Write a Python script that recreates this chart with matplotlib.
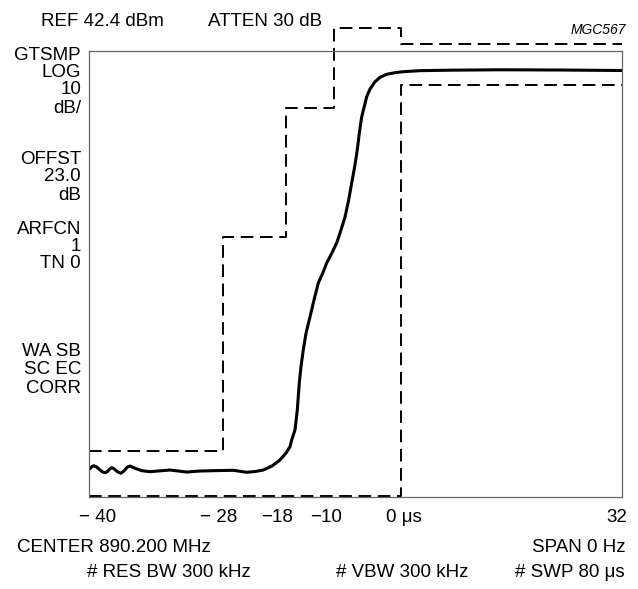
import matplotlib
matplotlib.use("Agg")
import matplotlib.pyplot as plt
import matplotlib.transforms as mtransforms
import numpy as np

plt.rcParams['font.family'] = ['Liberation Sans', 'DejaVu Sans']

# time axis (us) and level (dBm)
tick_us = [-40, -28, -18, -10, 0, 32]
tick_labels = ["\u2212 40", "\u2212 28", "\u221218", "\u221210", "0 \u03bcs", "32"]

# upper mask: step edges and levels
upper_edges = [-40, -28, -18, -10, 0, 32]
upper_levels = [-29.4, 9.1, 32.1, 46.5, 43.7]
# lower mask
lower_edges = [-40, 0, 32]
lower_levels = [-37.5, 36.3]

# measured burst rising edge
sig_t = [-39.97, -39.76, -39.55, -39.31, -39.01, -38.77, -38.56, -38.36, -38.12,
         -37.96, -37.76, -37.46, -37.15, -36.86, -36.56, -36.32, -35.87, -35.27,
         -34.53, -32.73, -31.23, -30.03, -28.84, -26.32, -24.19, -22.87, -21.56,
         -20.18, -18.91, -17.95, -17.29, -17.01, -16.46, -16.08, -15.75, -15.47,
         -15.09, -14.64, -13.98, -13.31, -12.60, -11.87, -11.21, -10.38, -9.60,
         -8.95, -8.35, -7.80, -7.35, -6.90, -6.51, -6.21, -5.85, -5.10, -4.60,
         -3.85, -3.10, -2.10, -0.86, 0.38, 2.79, 7.13, 14.36, 23.04, 32.0]
sig_db = [-32.63, -32.17, -31.99, -32.22, -32.76, -33.12, -33.24, -33.06, -32.52,
          -32.34, -32.52, -33.06, -33.35, -32.94, -32.22, -32.04, -32.45, -32.88,
          -33.06, -32.76, -33.12, -32.94, -32.88, -32.81, -33.17, -33.03, -32.76,
          -32.04, -30.96, -29.71, -28.58, -27.38, -25.58, -21.99, -17.15, -14.23,
          -11.23, -8.24, -5.31, -2.26, 0.79, 2.53, 4.37, 6.11, 7.96,
          10.29, 12.62, 15.67, 18.72, 21.65, 24.64, 27.64, 30.56, 34.20, 35.58,
          36.89, 37.68, 38.22, 38.51, 38.69, 38.87, 38.96, 39.03, 38.99, 38.90]

ref_level = 42.4
span_db = 80

# schematic (non-linear) time axis: where each tick sits across the box
knot_pos = [0.0, 133.7, 196.7, 245.0, 311.7, 533.0]


def fwd(x):
    return np.interp(x, tick_us, knot_pos)


def inv(p):
    return np.interp(p, knot_pos, tick_us)


W, H = 638, 589
fig = plt.figure(figsize=(W / 100, H / 100), dpi=100)
ax = fig.add_axes([89 / W, 1 - 497 / H, 533 / W, 446 / H])
ax.set_xscale('function', functions=(fwd, inv))
ax.set_xlim(-40, 32)
ax.set_ylim(ref_level - span_db, ref_level)

for s in ax.spines.values():
    s.set_color('0.4')
    s.set_linewidth(0.9)

dash = (0, (6.5, 3.4))
ux = [upper_edges[0]]
uy = [upper_levels[0]]
for i, lv in enumerate(upper_levels):
    if i > 0:
        ux.append(upper_edges[i])
        uy.append(lv)
    ux.append(upper_edges[i + 1])
    uy.append(lv)
ax.plot(ux, uy, color='black', lw=1.4, linestyle=dash, clip_on=False)

lx = [lower_edges[0], lower_edges[1], lower_edges[1], lower_edges[2]]
ly = [lower_levels[0], lower_levels[0], lower_levels[1], lower_levels[1]]
ax.plot(lx, ly, color='black', lw=1.4, linestyle=dash, clip_on=False)

ax.plot(sig_t, sig_db, color='black', lw=2.2, solid_capstyle='round',
        solid_joinstyle='round')

ax.set_yticks([])
ax.set_xticks(tick_us)
ax.set_xticklabels(tick_labels, fontsize=13.5)
ax.tick_params(axis='x', length=0, pad=9)
label_dx = [9, -3.7, -8.7, -8, 3.3, -5]
for lab, dx in zip(ax.get_xticklabels(), label_dx):
    lab.set_transform(lab.get_transform() +
                      mtransforms.ScaledTranslation(dx / 100, 0, fig.dpi_scale_trans))

fs = 13.5


def ftext(x, y, s, ha='left', **kw):
    fig.text(x / W, 1 - y / H, s, ha=ha, va='center', fontsize=kw.pop('fontsize', fs), **kw)


ftext(41, 21, "REF 42.4 dBm")
ftext(208, 21, "ATTEN 30 dB")
ftext(626, 30, "MGC567", ha='right', fontsize=10, style='italic')

side = [("GTSMP", 55), ("LOG", 72.3), ("10", 90), ("dB/", 108.3),
        ("OFFST", 159), ("23.0", 176.7), ("dB", 195),
        ("ARFCN", 229.3), ("1", 246.7), ("TN 0", 264),
        ("WA SB", 351.7), ("SC EC", 370), ("CORR", 388.3)]
for s, y in side:
    ftext(81, y, s, ha='right')

ftext(17, 547.5, "CENTER 890.200 MHz")
ftext(625, 547.5, "SPAN 0 Hz", ha='right')
ftext(87, 572.5, "# RES BW 300 kHz")
ftext(468, 572.5, "# VBW 300 kHz", ha='right')
ftext(625, 572.5, "# SWP 80 \u03bcs", ha='right')

fig.savefig("out.png", dpi=100)
